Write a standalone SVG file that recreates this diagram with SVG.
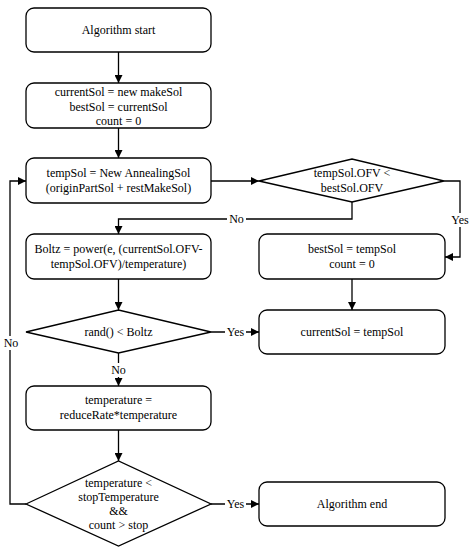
<svg xmlns="http://www.w3.org/2000/svg" width="476" height="550" viewBox="0 0 476 550">
<style>
.n{fill:#fff;stroke:#000;stroke-width:1.3}
.c{fill:none;stroke:#000;stroke-width:1.3}
text{font-family:'Liberation Serif','Times New Roman','DejaVu Serif',serif;font-size:12px;fill:#000;text-anchor:middle}
.lb{fill:#fff}
</style>
<defs>
<marker id="ah" viewBox="0 0 10 10" refX="10" refY="5" markerWidth="8" markerHeight="8" markerUnits="userSpaceOnUse" orient="auto">
<path d="M0,0 L10,5 L0,10 z" fill="#000"/>
</marker>
</defs>
<rect width="476" height="550" fill="#fff"/>
<g id="connectors" font-family="Liberation Serif, serif">
<path class="c" d="M118.5,52 V83" marker-end="url(#ah)"/>
<path class="c" d="M118.5,128 V158" marker-end="url(#ah)"/>
<path class="c" d="M211,181 H259" marker-end="url(#ah)"/>
<path class="c" d="M352,202 V219 H118.5 V234" marker-end="url(#ah)"/>
<path class="c" d="M444,181 H460 V257 H445" marker-end="url(#ah)"/>
<path class="c" d="M352,279 V310" marker-end="url(#ah)"/>
<path class="c" d="M118.5,279 V310" marker-end="url(#ah)"/>
<path class="c" d="M211,332 H259" marker-end="url(#ah)"/>
<path class="c" d="M118.5,353 V386" marker-end="url(#ah)"/>
<path class="c" d="M118.5,430 V461" marker-end="url(#ah)"/>
<path class="c" d="M211,504 H259" marker-end="url(#ah)"/>
<path class="c" d="M26,504 H10 V181 H26" marker-end="url(#ah)"/>
<rect class="lb" x="227" y="212" width="19" height="14"/>
<text x="236.5" y="223">No</text>
<rect class="lb" x="452" y="213" width="17" height="14"/>
<text x="460" y="224">Yes</text>
<rect class="lb" x="225" y="325" width="21" height="14"/>
<text x="235.5" y="336">Yes</text>
<rect class="lb" x="110" y="363" width="17" height="14"/>
<text x="118.5" y="374">No</text>
<rect class="lb" x="225" y="497" width="21" height="14"/>
<text x="235.5" y="508">Yes</text>
<rect class="lb" x="2" y="336" width="17" height="14"/>
<text x="11" y="347">No</text>
</g>
<g id="start">
<rect class="n" x="26" y="8" width="185" height="44" rx="8"/>
<text x="118.5" y="34">Algorithm start</text>
</g>
<g id="init">
<rect class="n" x="26" y="83" width="185" height="45" rx="8"/>
<text x="118.5" y="96">currentSol = new makeSol</text>
<text x="118.5" y="110.5">bestSol = currentSol</text>
<text x="118.5" y="125">count = 0</text>
</g>
<g id="tempSol">
<rect class="n" x="26" y="158" width="185" height="45" rx="8"/>
<text x="118.5" y="177">tempSol = New AnnealingSol</text>
<text x="118.5" y="191.5">(originPartSol + restMakeSol)</text>
</g>
<g id="cmpBest">
<polygon class="n" points="259,181 352,159 444,181 352,202"/>
<text x="352" y="177">tempSol.OFV &lt;</text>
<text x="352" y="191.5">bestSol.OFV</text>
</g>
<g id="boltz">
<rect class="n" x="26" y="234" width="185" height="45" rx="8"/>
<text x="118.5" y="253">Boltz = power(e, (currentSol.OFV-</text>
<text x="118.5" y="267.5">tempSol.OFV)/temperature)</text>
</g>
<g id="updBest">
<rect class="n" x="259" y="234" width="186" height="45" rx="8"/>
<text x="352" y="253">bestSol = tempSol</text>
<text x="352" y="267.5">count = 0</text>
</g>
<g id="rand">
<polygon class="n" points="26,332 118.5,310 211,332 118.5,353"/>
<text x="118.5" y="336">rand() &lt; Boltz</text>
</g>
<g id="updCurrent">
<rect class="n" x="259" y="310" width="186" height="44" rx="8"/>
<text x="352" y="336">currentSol = tempSol</text>
</g>
<g id="cool">
<rect class="n" x="26" y="386" width="185" height="44" rx="8"/>
<text x="118.5" y="404">temperature =</text>
<text x="118.5" y="418.5">reduceRate*temperature</text>
</g>
<g id="stop">
<polygon class="n" points="26,504 118.5,461 211,504 118.5,546"/>
<text x="118.5" y="487">temperature &lt;</text>
<text x="118.5" y="501">stopTemperature</text>
<text x="118.5" y="515">&amp;&amp;</text>
<text x="118.5" y="529">count &gt; stop</text>
</g>
<g id="end">
<rect class="n" x="259" y="482" width="186" height="44" rx="8"/>
<text x="352" y="508">Algorithm end</text>
</g>
</svg>
